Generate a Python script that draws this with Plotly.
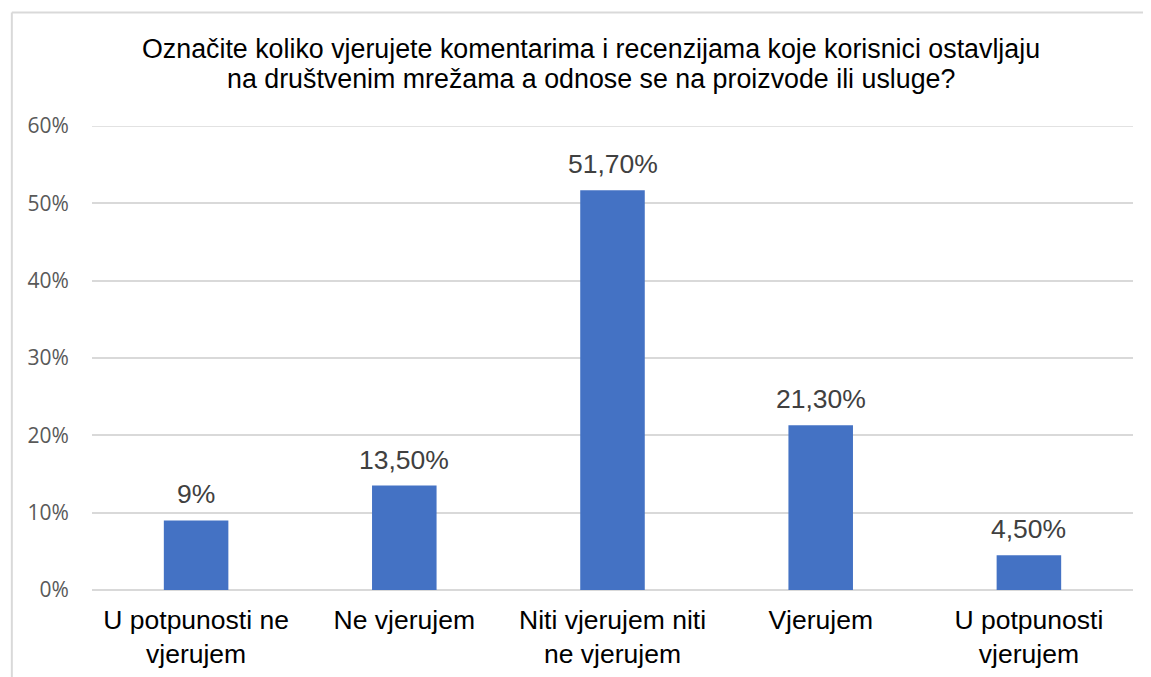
import plotly.graph_objects as go

categories = ["U potpunosti ne<br>vjerujem", "Ne vjerujem", "Niti vjerujem niti<br>ne vjerujem", "Vjerujem", "U potpunosti<br>vjerujem"]
values = [9.0, 13.5, 51.7, 21.3, 4.5]
value_labels = ["9%", "13,50%", "51,70%", "21,30%", "4,50%"]
y_ticks = [0, 10, 20, 30, 40, 50, 60]
y_tick_labels = ["0%", "10%", "20%", "30%", "40%", "50%", "60%"]
title_lines = ["Označite koliko vjerujete komentarima i recenzijama koje korisnici ostavljaju",
               "na društvenim mrežama a odnose se na proizvode ili usluge?"]

FONT = "Liberation Sans, Arial"

fig = go.Figure(go.Bar(
    x=categories, y=values,
    marker=dict(color="#4472C4", line=dict(width=0)),
    cliponaxis=False,
))

annotations = []
for line, yp in zip(title_lines, [1.166, 1.1015]):
    annotations.append(dict(text=line, xref="paper", yref="paper", x=0.4796, y=yp,
                            xanchor="center", yanchor="middle", showarrow=False,
                            font=dict(family=FONT, size=26.8, color="#000000")))
for cat, val, lab in zip(categories, values, value_labels):
    annotations.append(dict(text=lab, x=cat, y=val, xref="x", yref="y",
                            xanchor="center", yanchor="bottom", yshift=9, showarrow=False,
                            font=dict(family=FONT, size=26.5, color="#404040")))

fig.update_layout(
    width=1143, height=669,
    margin=dict(l=84, r=18, t=118, b=87, autoexpand=False),
    paper_bgcolor="white", plot_bgcolor="white",
    bargap=0.69,
    showlegend=False,
    annotations=annotations,
    xaxis=dict(tickfont=dict(family=FONT, size=26.5, color="#000000"),
               showgrid=False, showline=False, ticks="outside", ticklen=6, tickcolor="rgba(0,0,0,0)"),
    yaxis=dict(range=[0, 60], tickvals=y_ticks, ticktext=y_tick_labels,
               tickfont=dict(family="Open Sans, Liberation Sans", size=21, color="#595959"),
               showgrid=True, gridcolor="#d9d9d9", gridwidth=1.5,
               zeroline=True, zerolinecolor="#d9d9d9", zerolinewidth=1.5,
               ticks="outside", ticklen=18, tickcolor="rgba(0,0,0,0)"),
    font=dict(family=FONT),
    shapes=[
        dict(type="line", xref="paper", yref="y", x0=0, x1=1, y0=max(y_ticks), y1=max(y_ticks),
             line=dict(color="#d9d9d9", width=1.5), layer="below"),
        dict(type="line", xref="paper", yref="paper", x0=-0.0770, x1=-0.0770, y0=1.2445, y1=-0.25,
             line=dict(color="#d9d9d9", width=2)),
        dict(type="line", xref="paper", yref="paper", x0=-0.0770, x1=1.05, y0=1.2445, y1=1.2445,
             line=dict(color="#d9d9d9", width=2)),
    ],
)

fig.write_html("out.html")
